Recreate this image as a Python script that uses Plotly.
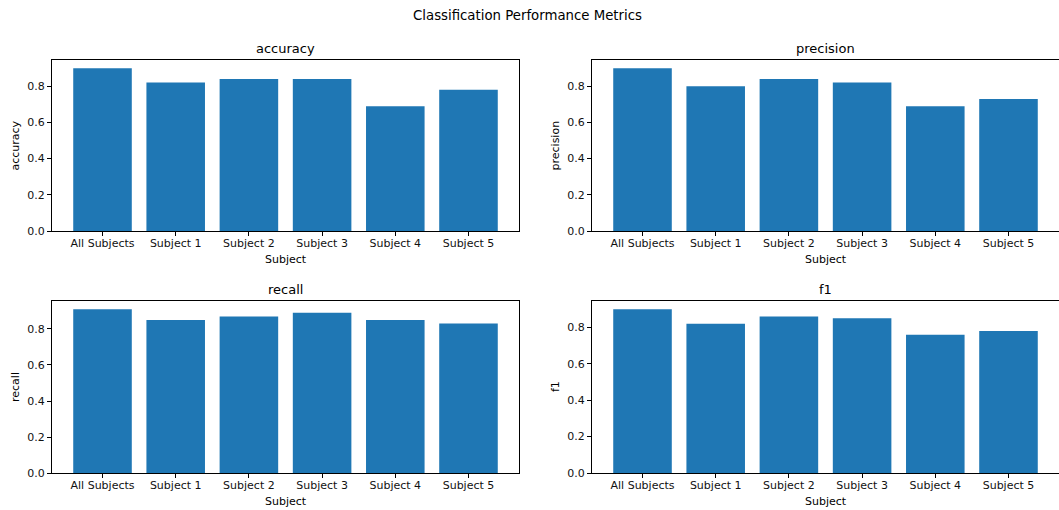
import plotly.graph_objects as go

subjects = ["All Subjects", "Subject 1", "Subject 2", "Subject 3", "Subject 4", "Subject 5"]
accuracy = [0.90, 0.82, 0.84, 0.84, 0.69, 0.78]
precision = [0.90, 0.80, 0.84, 0.82, 0.69, 0.73]
recall = [0.91, 0.85, 0.87, 0.89, 0.85, 0.83]
f1 = [0.90, 0.82, 0.86, 0.85, 0.76, 0.78]
metric_names = ["accuracy", "precision", "recall", "f1"]
metric_values = [accuracy, precision, recall, f1]
y_ticks = [0.0, 0.2, 0.4, 0.6, 0.8]

W, H = 1059, 510
FONT = "DejaVu Sans"
BLUE = "#1f77b4"

# axes boxes in pixels: (x0, x1, y0_top, y1_bottom)
boxes = [(52, 519, 60, 231), (592, 1059, 60, 231), (52, 519, 301, 473), (592, 1059, 301, 473)]

fig = go.Figure()
annotations = []
layout = {}
for i, (name, vals) in enumerate(zip(metric_names, metric_values)):
    x0, x1, yt, yb = boxes[i]
    idx = "" if i == 0 else str(i + 1)
    fig.add_trace(go.Bar(x=subjects, y=vals, marker=dict(color=BLUE, line=dict(width=0)),
                         width=0.8, xaxis="x" + idx, yaxis="y" + idx, showlegend=False,
                         hoverinfo="skip"))
    ymax = max(vals) * 1.05
    layout["xaxis" + idx] = dict(
        domain=[x0 / W, min(x1 / W, 1.0)], anchor="y" + idx, type="category",
        range=[-0.69, 5.69], showline=True, linecolor="black", linewidth=1, mirror=True,
        ticks="outside", ticklen=4, tickcolor="black", showgrid=False, zeroline=False,
        automargin=False, ticklabelstandoff=-2,
        tickfont=dict(family=FONT, size=11, color="#111"), fixedrange=True)
    layout["yaxis" + idx] = dict(
        domain=[1 - yb / H, 1 - yt / H], anchor="x" + idx, range=[0, ymax],
        tickvals=y_ticks, ticktext=[f"{v:.1f}" for v in y_ticks],
        showline=True, linecolor="black", linewidth=1, mirror=True,
        ticks="outside", ticklen=4, tickcolor="black", showgrid=False, zeroline=False,
        automargin=False,
        tickfont=dict(family=FONT, size=11, color="#111"), fixedrange=True)
    cx = (x0 + x1) / 2
    annotations.append(dict(text=name, x=cx / W, y=1 - (yt - 12) / H, xref="paper", yref="paper",
                            showarrow=False, xanchor="center", yanchor="middle",
                            font=dict(family=FONT, size=13, color="black")))
    annotations.append(dict(text="Subject", x=cx / W, y=1 - (yb + 28) / H, xref="paper", yref="paper",
                            showarrow=False, xanchor="center", yanchor="middle",
                            font=dict(family=FONT, size=11, color="black")))
    annotations.append(dict(text=name, x=(x0 - 37) / W, y=1 - (yt + yb) / 2 / H, xref="paper", yref="paper",
                            showarrow=False, xanchor="center", yanchor="middle", textangle=-90,
                            font=dict(family=FONT, size=11, color="black")))

annotations.append(dict(text="Classification Performance Metrics", x=527 / W, y=1 - 15 / H,
                        xref="paper", yref="paper", showarrow=False, xanchor="center", yanchor="middle",
                        font=dict(family=FONT, size=13.3, color="black")))

fig.update_layout(template="none", width=W, height=H, autosize=False,
                  margin=dict(l=0, r=0, t=0, b=0, pad=0),
                  paper_bgcolor="white", plot_bgcolor="white", bargap=0.2,
                  annotations=annotations, **layout)
fig.write_html("out.html",
               config={"displayModeBar": False, "responsive": False, "staticPlot": True},
               post_script="document.body.style.margin='0';document.body.style.overflow='hidden';")
